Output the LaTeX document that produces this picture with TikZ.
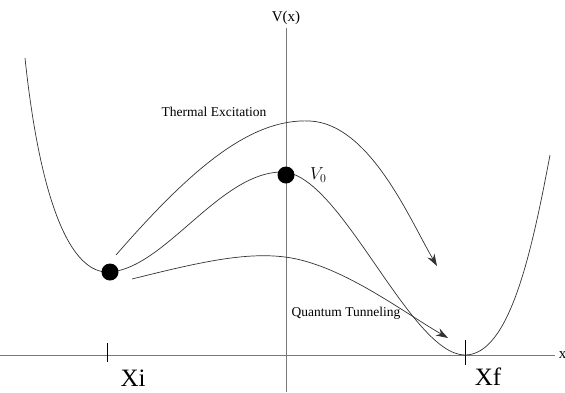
\documentclass[tikz,border=0pt]{standalone}
\usepackage{fontspec}
\setmainfont{Liberation Serif}
\usetikzlibrary{arrows.meta,positioning}
\definecolor{ejegris}{RGB}{120,120,120}
\definecolor{curvagris}{RGB}{50,50,50}
\tikzset{
  eje/.style={line width=0.9pt,ejegris},
  curva/.style={line width=0.7pt,curvagris},
  ruta/.style={line width=0.7pt,curvagris,-{Stealth[length=12pt,width=8pt]}},
  bola/.style={circle,fill=black,inner sep=0pt,minimum size=17pt},
}
\begin{document}
\begin{tikzpicture}[x=1pt,y=-1pt]
\useasboundingbox (0,0) rectangle (565,392);
% ejes
\coordinate (x0) at (0,355);
\coordinate (x1) at (555,355);
\coordinate (y0) at (286,392);
\coordinate (y1) at (286,28);
\draw[eje] (x0) -- (x1) node[right,black,font=\fontsize{15}{17}\selectfont] (xlab) {x};
\draw[eje] (y0) -- (y1) node[above,black,font=\fontsize{15}{17}\selectfont] (vlab) {V(x)};
% marcas Xi, Xf
\coordinate (xi) at (107,355);
\coordinate (xf) at (465,355);
\draw[line width=0.8pt] ([yshift=-7]xi) -- ([yshift=12]xi);
\draw[line width=0.8pt] ([yshift=-10]xf) -- ([yshift=15]xf);
\node[font=\fontsize{25}{28}\selectfont] (xilab) at (133,378) {Xi};
\node[font=\fontsize{25}{28}\selectfont] (xflab) at (488,377) {Xf};
% potencial
\draw[curva] (25,58) .. controls (40,200) and (70,275) .. (110,272)
  .. controls (165,268) and (220,172) .. (282,172)
  .. controls (340,172) and (410,355) .. (465,355)
  .. controls (510,355) and (532,250) .. (550,155);
% bolas
\node[bola] (izq) at (110,272) {};
\node[bola] (cima) at (286,175) {};
\node[right=12pt of cima,font=\fontsize{17}{19}\selectfont] (v0) {$V_0$};
% rutas
\coordinate (te0) at (116,255);
\coordinate (te1) at (437,266);
\coordinate (qt0) at (132,279);
\coordinate (qt1) at (448,338);
\draw[ruta] (te0) .. controls (190,170) and (250,118) .. (310,121)
  .. controls (370,124) and (410,220) .. (te1);
\draw[ruta] (qt0) .. controls (200,262) and (245,252) .. (285,257)
  .. controls (340,264) and (400,310) .. (qt1);
\node[font=\fontsize{13.5}{15}\selectfont] (termal) at (214,112) {Thermal Excitation};
\node[font=\fontsize{13.5}{15}\selectfont] (tunel) at (346,313) {Quantum Tunneling};
\end{tikzpicture}
\end{document}
